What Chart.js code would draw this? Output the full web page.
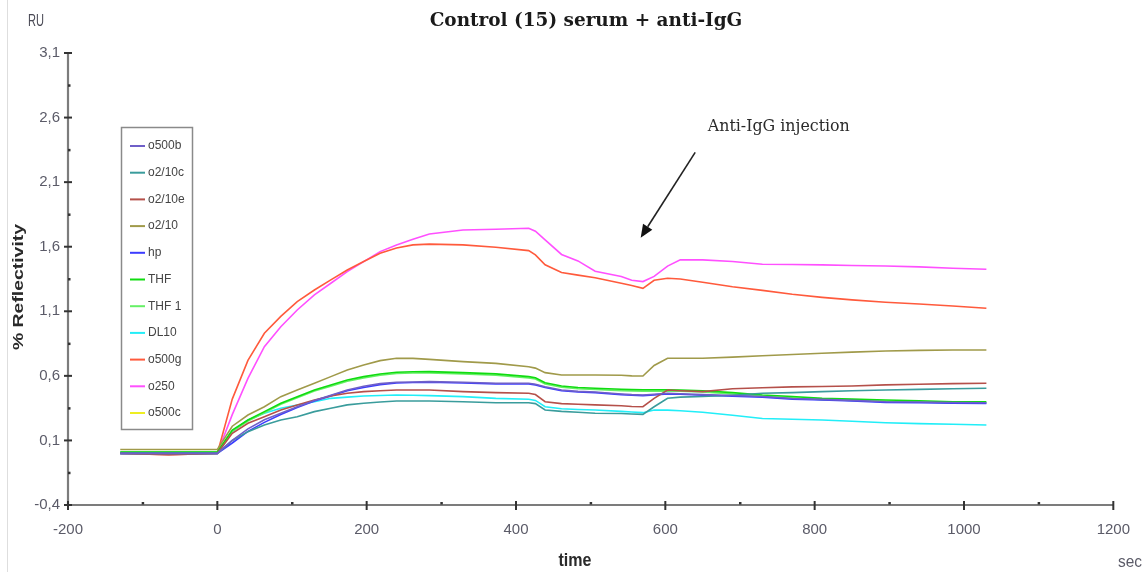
<!DOCTYPE html>
<html>
<head>
<meta charset="utf-8">
<script src="https://cdn.jsdelivr.net/npm/chart.js@4.4.1/dist/chart.umd.min.js"></script>
<style>
  html, body { margin: 0; padding: 0; background: #ffffff; }
  #wrap { width: 1146px; height: 572px; position: relative; }
</style>
</head>
<body>
<div id="wrap"><canvas id="c" width="1146" height="572"></canvas></div>
<script>
// Sensorgram: time (s) vs. % reflectivity for each sample
const timeSec = [-130, -65, 0, 20, 41, 63, 85, 107, 130, 152, 174, 196, 218, 240, 262, 284, 329, 373, 417, 426,
                 439, 461, 483, 506, 541, 555, 570, 585, 603, 620, 650, 690, 730, 770, 810, 850, 895, 940, 985, 1030];

const o500b = [0.00, 0.00, 0.00, 0.10, 0.19, 0.26, 0.31, 0.36, 0.41, 0.45, 0.49, 0.52, 0.54, 0.55, 0.553, 0.555, 0.55, 0.543, 0.543, 0.535,
               0.516, 0.49, 0.48, 0.475, 0.46, 0.455, 0.452, 0.458, 0.465, 0.462, 0.455, 0.448, 0.44, 0.425, 0.418, 0.41, 0.40, 0.397, 0.394, 0.392];
const o210c = [0.00, 0.00, 0.00, 0.10, 0.168, 0.22, 0.258, 0.284, 0.323, 0.349, 0.375, 0.388, 0.398, 0.405, 0.405, 0.405, 0.40, 0.392, 0.392, 0.385,
               0.336, 0.325, 0.318, 0.31, 0.308, 0.305, 0.302, 0.361, 0.426, 0.435, 0.44, 0.45, 0.465, 0.47, 0.478, 0.485, 0.491, 0.495, 0.50, 0.504];
const o210e = [0.00, -0.01, 0.00, 0.155, 0.233, 0.284, 0.336, 0.375, 0.413, 0.444, 0.465, 0.478, 0.485, 0.491, 0.491, 0.491, 0.478, 0.47, 0.465, 0.455,
               0.40, 0.385, 0.38, 0.375, 0.368, 0.363, 0.361, 0.426, 0.49, 0.485, 0.478, 0.50, 0.508, 0.515, 0.518, 0.522, 0.53, 0.535, 0.54, 0.543];
const o210 = [0.03, 0.03, 0.03, 0.21, 0.297, 0.361, 0.439, 0.491, 0.543, 0.594, 0.646, 0.684, 0.718, 0.736, 0.735, 0.728, 0.71, 0.697, 0.671, 0.66,
              0.625, 0.607, 0.607, 0.607, 0.605, 0.60, 0.599, 0.68, 0.736, 0.736, 0.736, 0.745, 0.756, 0.765, 0.775, 0.784, 0.793, 0.797, 0.80, 0.80];
const hp = [0.00, 0.00, 0.00, 0.08, 0.17, 0.24, 0.30, 0.355, 0.405, 0.445, 0.485, 0.51, 0.532, 0.545, 0.548, 0.55, 0.545, 0.538, 0.538, 0.53,
            0.51, 0.485, 0.475, 0.47, 0.455, 0.45, 0.447, 0.453, 0.46, 0.457, 0.45, 0.443, 0.435, 0.42, 0.413, 0.405, 0.395, 0.392, 0.389, 0.387];
const thf = [0.01, 0.01, 0.01, 0.18, 0.258, 0.323, 0.388, 0.439, 0.491, 0.53, 0.568, 0.594, 0.615, 0.628, 0.632, 0.633, 0.625, 0.615, 0.594, 0.585,
             0.547, 0.522, 0.51, 0.504, 0.496, 0.494, 0.492, 0.492, 0.492, 0.491, 0.485, 0.47, 0.452, 0.44, 0.426, 0.42, 0.413, 0.407, 0.40, 0.40];
const thf1 = [0.01, 0.01, 0.01, 0.17, 0.25, 0.315, 0.38, 0.43, 0.482, 0.52, 0.558, 0.584, 0.605, 0.618, 0.622, 0.623, 0.615, 0.605, 0.584, 0.575,
              0.537, 0.512, 0.50, 0.494, 0.486, 0.484, 0.482, 0.482, 0.482, 0.481, 0.475, 0.46, 0.442, 0.43, 0.416, 0.41, 0.403, 0.397, 0.39, 0.39];
const dl10 = [0.00, 0.00, 0.00, 0.168, 0.258, 0.31, 0.349, 0.375, 0.40, 0.426, 0.435, 0.444, 0.448, 0.452, 0.45, 0.447, 0.439, 0.426, 0.419, 0.41,
              0.361, 0.345, 0.34, 0.336, 0.325, 0.32, 0.315, 0.336, 0.335, 0.33, 0.318, 0.295, 0.27, 0.264, 0.258, 0.248, 0.237, 0.23, 0.225, 0.22];
const o500g = [0.00, -0.01, 0.00, 0.42, 0.72, 0.93, 1.06, 1.175, 1.265, 1.343, 1.42, 1.485, 1.55, 1.59, 1.614, 1.62, 1.614, 1.596, 1.57, 1.537,
               1.46, 1.40, 1.38, 1.36, 1.317, 1.30, 1.278, 1.34, 1.356, 1.35, 1.325, 1.29, 1.262, 1.232, 1.208, 1.188, 1.17, 1.157, 1.141, 1.124];
const o250 = [0.00, 0.00, 0.00, 0.30, 0.58, 0.826, 0.98, 1.11, 1.227, 1.317, 1.407, 1.485, 1.562, 1.614, 1.658, 1.699, 1.73, 1.735, 1.743, 1.72,
              1.653, 1.54, 1.49, 1.41, 1.37, 1.34, 1.33, 1.37, 1.45, 1.498, 1.498, 1.485, 1.464, 1.462, 1.459, 1.455, 1.451, 1.444, 1.433, 1.426];
const o500c = [];

const seriesNames = ['o500b', 'o2/10c', 'o2/10e', 'o2/10', 'hp', 'THF', 'THF 1', 'DL10', 'o500g', 'o250', 'o500c'];
const seriesValues = [o500b, o210c, o210e, o210, hp, thf, thf1, dl10, o500g, o250, o500c];
const seriesColors = ['#6f5fc8', '#3a9c9c', '#b5504a', '#a09a4a', '#3c3cff', '#10dc10', '#66f066', '#22eef8', '#ff5a3c', '#ff50ff', '#eeee22'];

const xTickValues = [-200, 0, 200, 400, 600, 800, 1000, 1200];
const xTickLabels = ['-200', '0', '200', '400', '600', '800', '1000', '1200'];
const yTickValues = [-0.4, 0.1, 0.6, 1.1, 1.6, 2.1, 2.6, 3.1];
const yTickLabels = ['-0,4', '0,1', '0,6', '1,1', '1,6', '2,1', '2,6', '3,1'];

const chartTitle = 'Control (15) serum + anti-IgG';
const yTitle = '% Reflectivity';
const xTitle = 'time';
const xUnit = 'sec';
const yUnit = 'RU';

// Injection marker, in data units
const noteText = 'Anti-IgG injection';
const noteAt = { t: 752, v: 2.53 };
const arrowFrom = { t: 640, v: 2.33 };
const arrowTo = { t: 567, v: 1.67 };

const SANS = "'Liberation Sans', Arial, sans-serif";
const SERIF = "'DejaVu Serif', 'Liberation Serif', serif";
const TICK_COLOR = '#5b5b68';

function fitFont(ctx, text, weight, family, targetW, base) {
  ctx.font = `${weight} ${base}px ${family}`;
  const w = ctx.measureText(text).width;
  return `${weight} ${(base * targetW / w).toFixed(2)}px ${family}`;
}

// Draws text squeezed horizontally to a given width (condensed look)
function squeezedText(ctx, text, font, x, y, width, align) {
  ctx.save();
  ctx.font = font;
  const w = ctx.measureText(text).width;
  const k = width / w;
  ctx.translate(x, y);
  ctx.scale(k, 1);
  ctx.textAlign = align;
  ctx.fillText(text, 0, 0);
  ctx.restore();
}

const decorations = {
  id: 'decorations',
  afterDraw(chart) {
    const ctx = chart.ctx;
    const xs = chart.scales.x, ys = chart.scales.y;
    const a = chart.chartArea;
    ctx.save();

    // faint frame edge on the left
    ctx.strokeStyle = '#dedede';
    ctx.lineWidth = 1;
    ctx.beginPath(); ctx.moveTo(7.5, 0); ctx.lineTo(7.5, 572); ctx.stroke();

    // axis lines
    ctx.strokeStyle = '#7c7c7c';
    ctx.lineWidth = 2.2;
    ctx.beginPath();
    ctx.moveTo(a.left, ys.getPixelForValue(yTickValues[yTickValues.length - 1]));
    ctx.lineTo(a.left, a.bottom);
    ctx.lineTo(xs.getPixelForValue(xTickValues[xTickValues.length - 1]), a.bottom);
    ctx.stroke();

    // major ticks crossing the axes, minor dots half-way
    ctx.strokeStyle = '#333';
    ctx.lineWidth = 2;
    yTickValues.forEach((v, i) => {
      const py = ys.getPixelForValue(v);
      ctx.beginPath(); ctx.moveTo(a.left - 4, py); ctx.lineTo(a.left + 4, py); ctx.stroke();
      if (i < yTickValues.length - 1) {
        const my = ys.getPixelForValue((v + yTickValues[i + 1]) / 2);
        ctx.fillStyle = '#333';
        ctx.fillRect(a.left, my - 1, 2.5, 2.5);
      }
    });
    xTickValues.forEach((v, i) => {
      const px = xs.getPixelForValue(v);
      ctx.beginPath(); ctx.moveTo(px, a.bottom - 4); ctx.lineTo(px, a.bottom + 5); ctx.stroke();
      if (i < xTickValues.length - 1) {
        const mx = xs.getPixelForValue((v + xTickValues[i + 1]) / 2);
        ctx.fillStyle = '#333';
        ctx.fillRect(mx - 1, a.bottom - 3, 2.5, 2.5);
      }
    });

    // title
    ctx.fillStyle = '#1a1a1a';
    ctx.textAlign = 'center';
    ctx.textBaseline = 'middle';
    ctx.font = fitFont(ctx, chartTitle, 'bold', SERIF, 313, 18);
    ctx.fillText(chartTitle, 586, 21);

    // unit labels
    ctx.fillStyle = '#4a4a55';
    squeezedText(ctx, yUnit, `16px ${SANS}`, 28, 22, 16, 'left');
    ctx.fillStyle = TICK_COLOR;
    squeezedText(ctx, xUnit, `17px ${SANS}`, 1118, 562, 24, 'left');

    // axis titles
    ctx.fillStyle = '#2a2a2a';
    squeezedText(ctx, xTitle, `bold 18px ${SANS}`, 575, 561, 33, 'center');
    ctx.save();
    ctx.translate(19, 287);
    ctx.rotate(-Math.PI / 2);
    ctx.font = `bold 15px ${SANS}`;
    const yw = ctx.measureText(yTitle).width;
    ctx.scale(126 / yw, 1);
    ctx.textAlign = 'center';
    ctx.fillText(yTitle, 0, 0);
    ctx.restore();

    // injection note and arrow
    ctx.fillStyle = '#2a2a2a';
    ctx.textAlign = 'center';
    ctx.font = fitFont(ctx, noteText, 'normal', SERIF, 142, 15);
    ctx.fillText(noteText, xs.getPixelForValue(noteAt.t), ys.getPixelForValue(noteAt.v));
    const x0 = xs.getPixelForValue(arrowFrom.t), y0 = ys.getPixelForValue(arrowFrom.v);
    const x1 = xs.getPixelForValue(arrowTo.t), y1 = ys.getPixelForValue(arrowTo.v);
    const ang = Math.atan2(y1 - y0, x1 - x0);
    const headLen = 13, headW = 5.5;
    const bx = x1 - headLen * Math.cos(ang), by = y1 - headLen * Math.sin(ang);
    ctx.strokeStyle = '#222';
    ctx.lineWidth = 1.6;
    ctx.beginPath(); ctx.moveTo(x0, y0); ctx.lineTo(bx, by); ctx.stroke();
    ctx.fillStyle = '#111';
    ctx.beginPath();
    ctx.moveTo(x1, y1);
    ctx.lineTo(bx + headW * Math.sin(ang), by - headW * Math.cos(ang));
    ctx.lineTo(bx - headW * Math.sin(ang), by + headW * Math.cos(ang));
    ctx.closePath(); ctx.fill();

    // legend box
    ctx.strokeStyle = '#8a8a8a';
    ctx.lineWidth = 1.5;
    ctx.strokeRect(121.5, 127.5, 71, 302);
    ctx.textAlign = 'left';
    ctx.textBaseline = 'middle';
    ctx.font = `12px ${SANS}`;
    chart.data.datasets.forEach((ds, i) => {
      const ry = 146 + i * 26.7;
      ctx.strokeStyle = ds.borderColor;
      ctx.lineWidth = 2;
      ctx.beginPath(); ctx.moveTo(130, ry); ctx.lineTo(145, ry); ctx.stroke();
      ctx.fillStyle = '#444';
      ctx.fillText(ds.label, 148, ry);
    });

    ctx.restore();
  }
};

const datasets = seriesNames.map((name, i) => ({
  label: name,
  data: seriesValues[i].map((v, k) => ({ x: timeSec[k], y: v })),
  borderColor: seriesColors[i],
  backgroundColor: seriesColors[i],
  borderWidth: 1.6,
  pointRadius: 0,
  tension: 0,
  fill: false
}));

new Chart(document.getElementById('c'), {
  type: 'line',
  data: { datasets },
  plugins: [decorations],
  options: {
    responsive: false,
    animation: false,
    devicePixelRatio: 1,
    layout: { padding: { left: 0, right: 23, top: 53, bottom: 0 } },
    plugins: { legend: { display: false }, title: { display: false }, tooltip: { enabled: false } },
    scales: {
      x: {
        type: 'linear',
        min: -200, max: 1200,
        grid: { display: false, drawTicks: false },
        border: { display: false },
        afterBuildTicks(s) { s.ticks = xTickValues.map(v => ({ value: v })); },
        afterFit(s) { s.height = 67; },
        ticks: {
          autoSkip: false, maxRotation: 0, padding: 16,
          color: TICK_COLOR,
          font: { family: SANS, size: 15 },
          callback: (v, i) => xTickLabels[i]
        }
      },
      y: {
        type: 'linear',
        min: -0.4, max: 3.1,
        grid: { display: false, drawTicks: false },
        border: { display: false },
        afterBuildTicks(s) { s.ticks = yTickValues.map(v => ({ value: v })); },
        afterFit(s) { s.width = 68; },
        ticks: {
          autoSkip: false, padding: 8,
          color: TICK_COLOR,
          font: { family: SANS, size: 15 },
          callback: (v, i) => yTickLabels[i]
        }
      }
    }
  }
});
</script>
</body>
</html>
